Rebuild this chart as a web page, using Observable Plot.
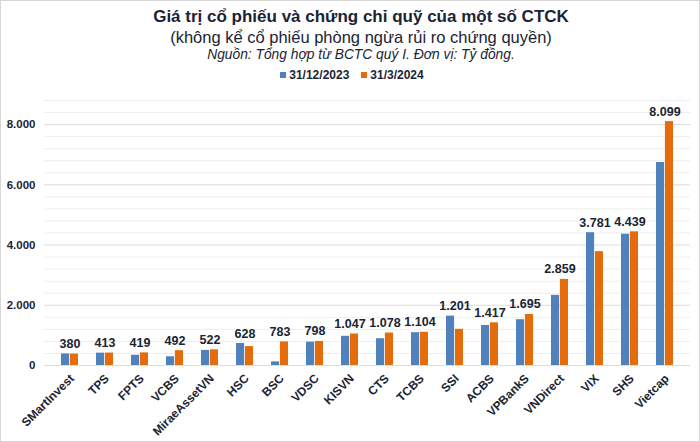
<!DOCTYPE html>
<html><head><meta charset="utf-8">
<script src="https://cdn.jsdelivr.net/npm/d3@7"></script>
<script src="https://cdn.jsdelivr.net/npm/@observablehq/plot@0.6"></script>
<style>
body{margin:0;background:#fff;font-family:"Liberation Sans",Arial,sans-serif;color:#1b2433;}
#wrap{position:relative;width:700px;height:442px;overflow:hidden;background:#fff;}
.hd{position:absolute;left:0;width:722px;text-align:center;white-space:nowrap;}
#title{top:7px;font-size:17px;font-weight:bold;line-height:20px;}
#subtitle{top:28px;font-size:16.5px;line-height:18px;}
#source{top:47px;font-size:13.8px;font-style:italic;line-height:15px;}
#legend{position:absolute;top:68px;left:0;width:704px;text-align:center;font-size:12px;font-weight:bold;line-height:15px;white-space:nowrap;}
#legend span.sw{display:inline-block;width:6px;height:6px;margin-right:3px;vertical-align:1px;}
#legend span.it{margin:0 6px;}
#chart{position:absolute;top:88px;left:0;}
#frame{position:absolute;left:0;top:0;width:698px;height:440px;border:1px solid #d6d6d6;pointer-events:none;}
</style></head><body>
<div id="wrap">
  <div class="hd" id="title"></div>
  <div class="hd" id="subtitle"></div>
  <div class="hd" id="source"></div>
  <div id="legend"></div>
  <div id="chart"></div>
  <div id="frame"></div>
</div>
<script>
const titleText = "Giá trị cổ phiếu và chứng chỉ quỹ của một số CTCK";
const subtitleText = "(không kể cổ phiếu phòng ngừa rủi ro chứng quyền)";
const sourceText = "Nguồn: Tổng hợp từ BCTC quý I. Đơn vị: Tỷ đồng.";
const categories = ["SMartInvest","TPS","FPTS","VCBS","MiraeAssetVN","HSC","BSC","VDSC","KISVN","CTS","TCBS","SSI","ACBS","VPBankS","VNDirect","VIX","SHS","Vietcap"];
const values2023 = [385,410,340,290,500,730,120,775,970,890,1090,1640,1330,1520,2330,4410,4360,6740];
const values2024 = [380,413,419,492,522,628,783,798,1047,1078,1104,1201,1417,1695,2859,3781,4439,8099];
const seriesNames = ["31/12/2023","31/3/2024"];
const seriesColors = ["#4f81bd","#e46c0a"];
const yTicks = [0,2000,4000,6000,8000];
const yMinorTicks = [400,800,1200,1600,2400,2800,3200,3600,4400,4800,5200,5600,6400,6800,7200,7600,8400,8800];

document.getElementById("title").textContent = titleText;
document.getElementById("subtitle").textContent = subtitleText;
document.getElementById("source").textContent = sourceText;
const lg = document.getElementById("legend");
seriesNames.forEach((n,i)=>{
  const it = document.createElement("span"); it.className="it";
  const sw = document.createElement("span"); sw.className="sw"; sw.style.background = seriesColors[i];
  it.appendChild(sw); it.appendChild(document.createTextNode(n)); lg.appendChild(it);
});

const loc = d3.formatLocale({decimal:",", thousands:".", grouping:[3], currency:["",""]});
const fmt = loc.format(",d");
const ink = "#1b2433";

const chart = Plot.plot({
  width:700, height:354, marginTop:12, marginBottom:77, marginLeft:44, marginRight:10,
  style:{fontFamily:"'Liberation Sans', Arial, sans-serif", color:ink, background:"transparent"},
  x:{domain:categories, padding:0, label:null},
  y:{domain:[0,8800], label:null},
  marks:[
    Plot.gridY({ticks:yMinorTicks, stroke:"#eeeeee", strokeOpacity:1}),
    Plot.gridY({ticks:yTicks, stroke:"#dcdcdc", strokeOpacity:1}),
    Plot.barY(categories, {x:d=>d, y:(d,i)=>values2023[i], fill:seriesColors[0], insetLeft:9, insetRight:17.9}),
    Plot.barY(categories, {x:d=>d, y:(d,i)=>values2024[i], fill:seriesColors[1], insetLeft:17.9, insetRight:9}),
    Plot.text(categories, {x:d=>d, y:(d,i)=>Math.max(values2023[i],values2024[i]), text:(d,i)=>fmt(values2024[i]), dy:-6, lineAnchor:"bottom", fontWeight:"bold", fontSize:12.5, fill:ink}),
    Plot.axisY({ticks:yTicks, tickSize:0, tickPadding:9, tickFormat:fmt, fontWeight:"bold", fontSize:11.5, label:null}),
    Plot.axisX({tickSize:0, tickPadding:11, dx:2, tickRotate:-45, fontWeight:"bold", fontSize:12, label:null})
  ]
});
document.getElementById("chart").appendChild(chart);
</script>
</body></html>
